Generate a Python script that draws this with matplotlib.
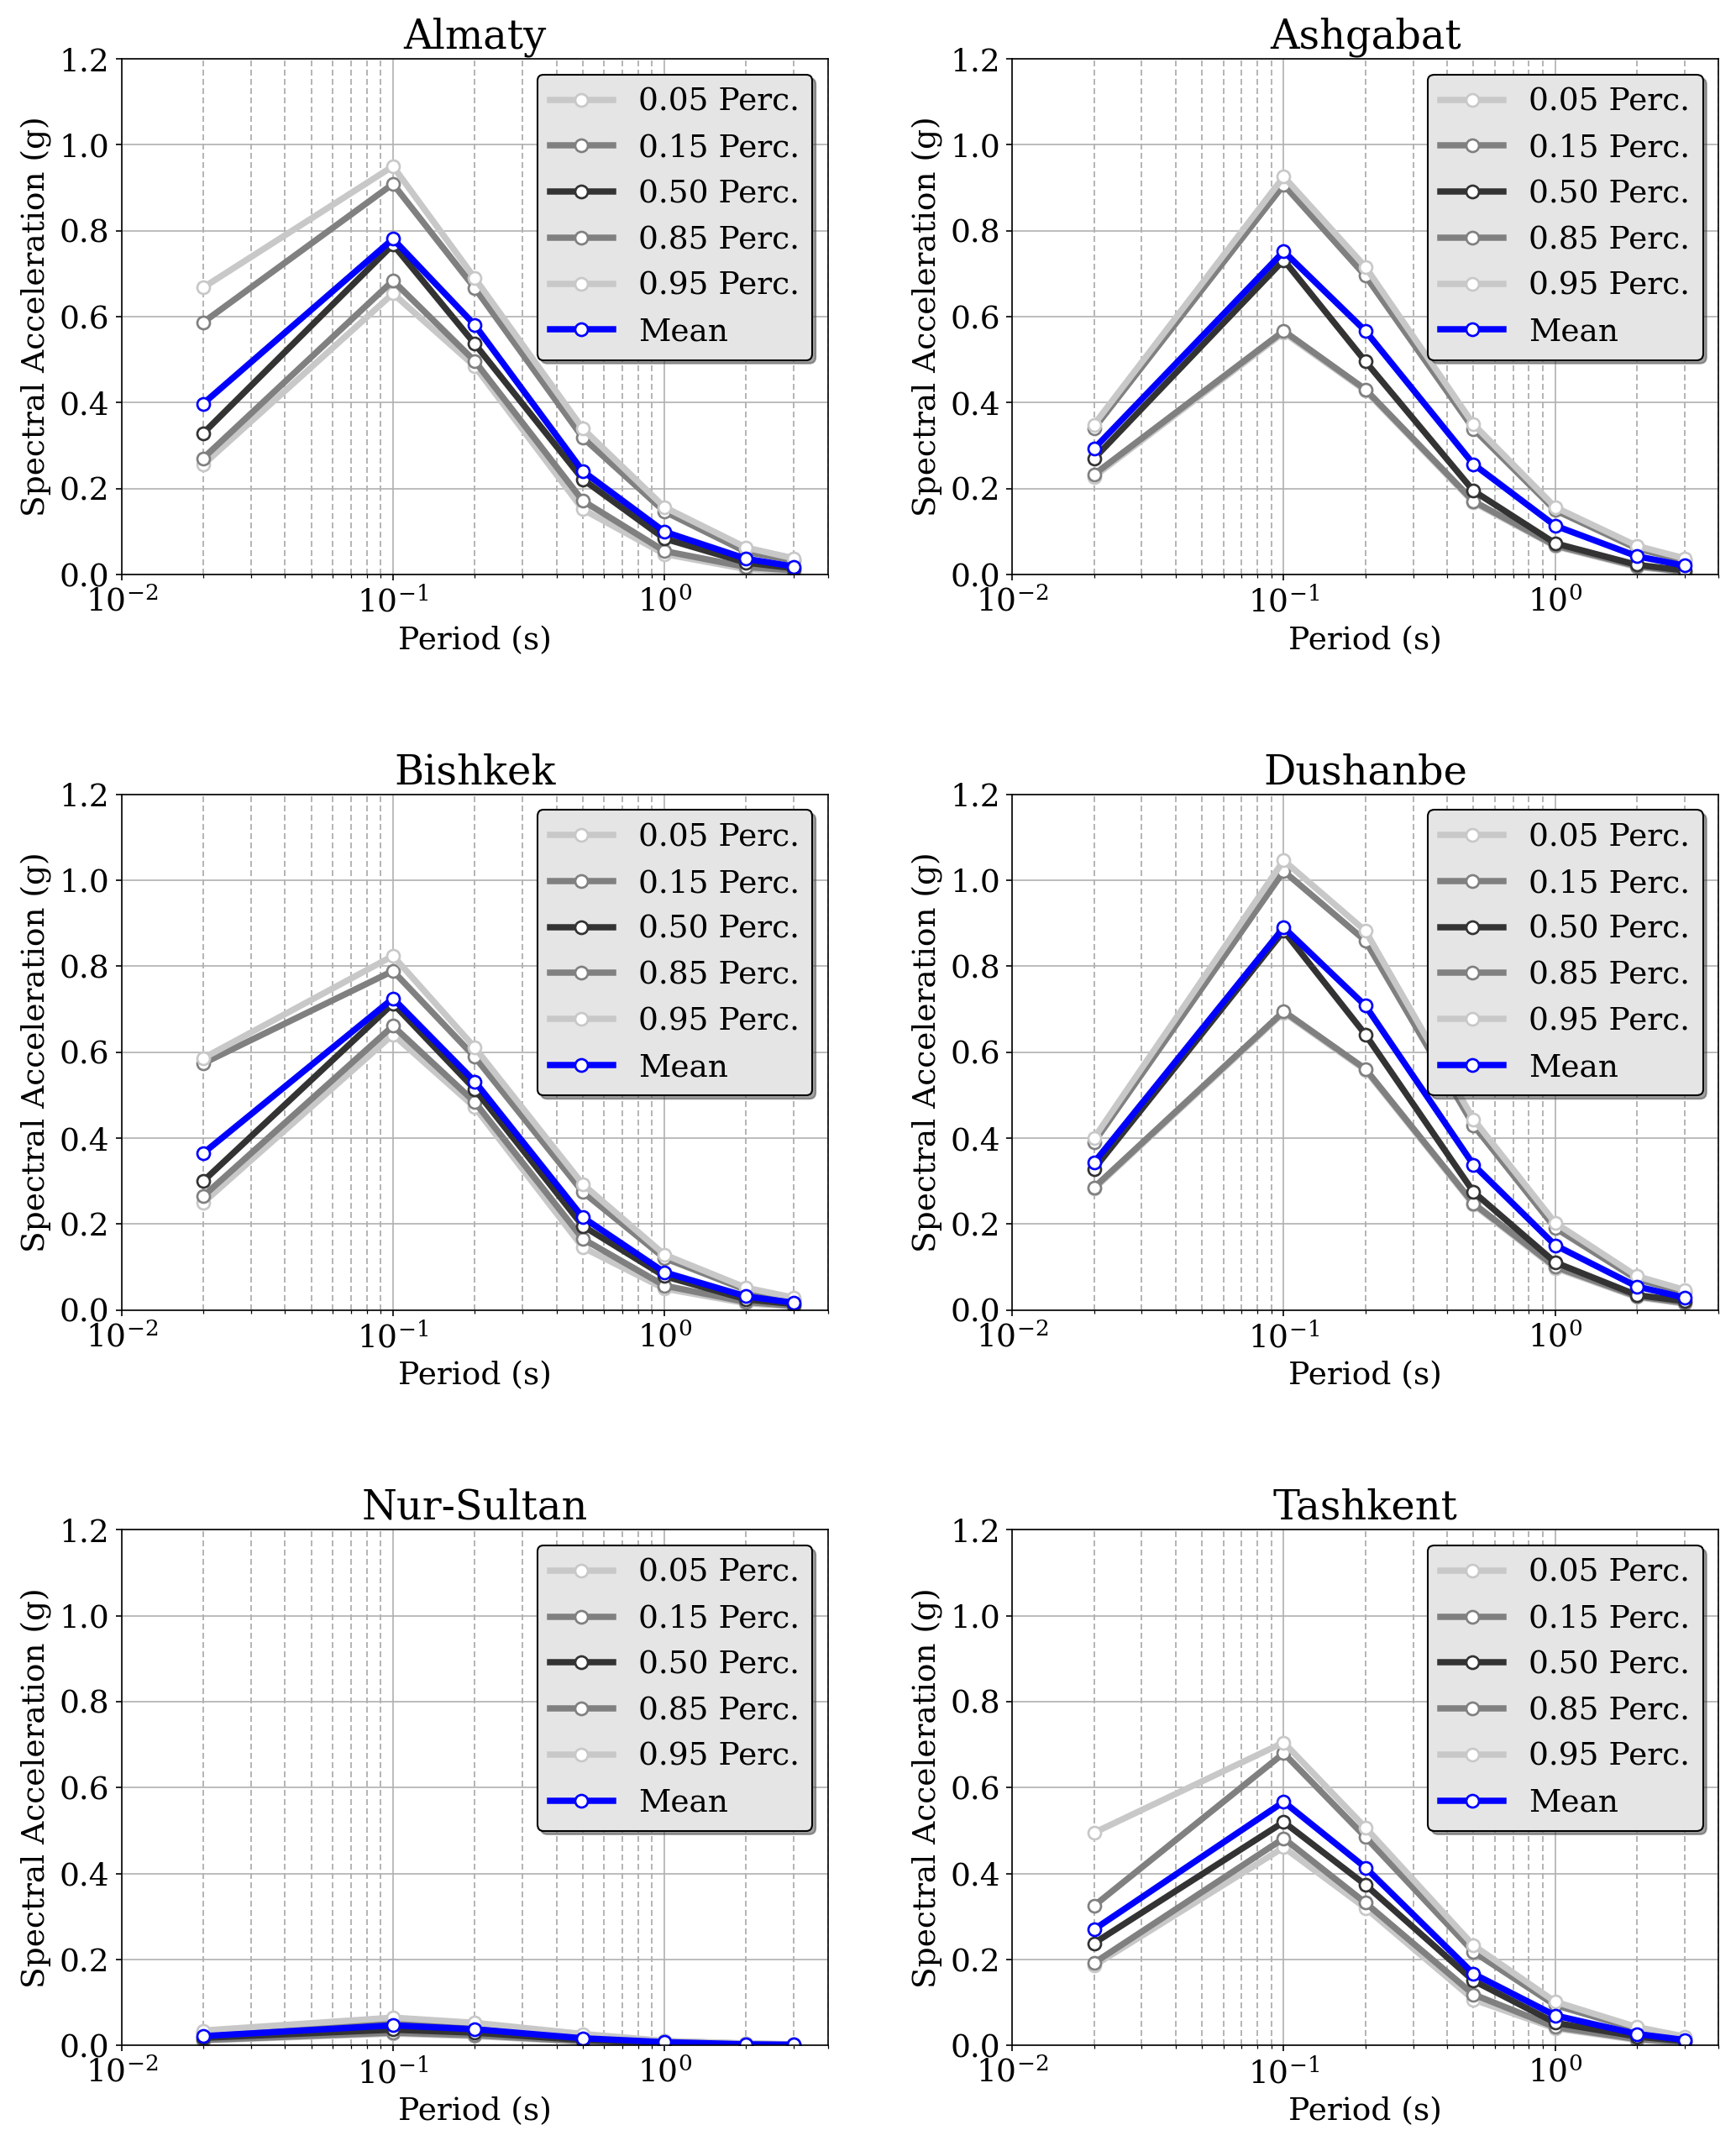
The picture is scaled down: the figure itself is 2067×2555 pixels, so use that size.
import numpy as np
import matplotlib
matplotlib.use("Agg")
import matplotlib.pyplot as plt

plt.rcParams['font.family'] = ['DejaVu Serif']
plt.rcParams['mathtext.fontset'] = 'dejavuserif'

# periods (s)
periods = [0.02, 0.1, 0.2, 0.5, 1.0, 2.0, 3.0]

cities = ["Almaty", "Ashgabat", "Bishkek", "Dushanbe", "Nur-Sultan", "Tashkent"]
labels = ["0.05 Perc.", "0.15 Perc.", "0.50 Perc.", "0.85 Perc.", "0.95 Perc.", "Mean"]

# spectral accelerations (g)
almaty_p05 = [0.256, 0.654, 0.485, 0.152, 0.048, 0.013, 0.007]
almaty_p15 = [0.271, 0.684, 0.497, 0.172, 0.055, 0.018, 0.010]
almaty_p50 = [0.329, 0.768, 0.537, 0.222, 0.084, 0.028, 0.015]
almaty_p85 = [0.587, 0.909, 0.667, 0.319, 0.147, 0.053, 0.033]
almaty_p95 = [0.668, 0.950, 0.690, 0.340, 0.157, 0.063, 0.038]
almaty_mean = [0.398, 0.781, 0.581, 0.241, 0.100, 0.037, 0.019]

ashgabat_p05 = [0.228, 0.563, 0.428, 0.168, 0.066, 0.018, 0.006]
ashgabat_p15 = [0.233, 0.567, 0.431, 0.171, 0.068, 0.020, 0.007]
ashgabat_p50 = [0.270, 0.732, 0.496, 0.195, 0.073, 0.023, 0.010]
ashgabat_p85 = [0.340, 0.907, 0.695, 0.339, 0.150, 0.061, 0.033]
ashgabat_p95 = [0.349, 0.926, 0.716, 0.350, 0.157, 0.067, 0.038]
ashgabat_mean = [0.293, 0.752, 0.567, 0.257, 0.114, 0.043, 0.021]

bishkek_p05 = [0.250, 0.641, 0.472, 0.146, 0.050, 0.016, 0.008]
bishkek_p15 = [0.265, 0.661, 0.484, 0.166, 0.057, 0.019, 0.010]
bishkek_p50 = [0.300, 0.713, 0.514, 0.196, 0.079, 0.025, 0.014]
bishkek_p85 = [0.574, 0.789, 0.589, 0.275, 0.121, 0.047, 0.025]
bishkek_p95 = [0.586, 0.824, 0.611, 0.293, 0.129, 0.052, 0.029]
bishkek_mean = [0.365, 0.725, 0.532, 0.216, 0.088, 0.032, 0.017]

dushanbe_p05 = [0.282, 0.692, 0.558, 0.245, 0.098, 0.030, 0.015]
dushanbe_p15 = [0.285, 0.695, 0.561, 0.248, 0.101, 0.032, 0.017]
dushanbe_p50 = [0.328, 0.882, 0.641, 0.275, 0.111, 0.035, 0.021]
dushanbe_p85 = [0.390, 1.021, 0.859, 0.430, 0.191, 0.072, 0.042]
dushanbe_p95 = [0.400, 1.046, 0.882, 0.444, 0.203, 0.079, 0.047]
dushanbe_mean = [0.343, 0.890, 0.708, 0.338, 0.151, 0.055, 0.029]

nursultan_p05 = [0.012, 0.028, 0.022, 0.009, 0.004, 0.0015, 0.001]
nursultan_p15 = [0.013, 0.030, 0.024, 0.010, 0.004, 0.002, 0.001]
nursultan_p50 = [0.018, 0.037, 0.030, 0.013, 0.006, 0.0025, 0.0015]
nursultan_p85 = [0.030, 0.060, 0.048, 0.024, 0.010, 0.0045, 0.0027]
nursultan_p95 = [0.035, 0.065, 0.053, 0.027, 0.011, 0.005, 0.003]
nursultan_mean = [0.022, 0.047, 0.038, 0.017, 0.008, 0.003, 0.002]

tashkent_p05 = [0.186, 0.461, 0.320, 0.107, 0.040, 0.013, 0.006]
tashkent_p15 = [0.192, 0.482, 0.332, 0.119, 0.043, 0.015, 0.007]
tashkent_p50 = [0.238, 0.520, 0.374, 0.151, 0.053, 0.021, 0.010]
tashkent_p85 = [0.325, 0.680, 0.485, 0.218, 0.094, 0.038, 0.018]
tashkent_p95 = [0.495, 0.705, 0.507, 0.233, 0.102, 0.043, 0.021]
tashkent_mean = [0.270, 0.567, 0.414, 0.167, 0.070, 0.027, 0.013]

data = {
    "Almaty": [almaty_p05, almaty_p15, almaty_p50, almaty_p85, almaty_p95, almaty_mean],
    "Ashgabat": [ashgabat_p05, ashgabat_p15, ashgabat_p50, ashgabat_p85, ashgabat_p95, ashgabat_mean],
    "Bishkek": [bishkek_p05, bishkek_p15, bishkek_p50, bishkek_p85, bishkek_p95, bishkek_mean],
    "Dushanbe": [dushanbe_p05, dushanbe_p15, dushanbe_p50, dushanbe_p85, dushanbe_p95, dushanbe_mean],
    "Nur-Sultan": [nursultan_p05, nursultan_p15, nursultan_p50, nursultan_p85, nursultan_p95, nursultan_mean],
    "Tashkent": [tashkent_p05, tashkent_p15, tashkent_p50, tashkent_p85, tashkent_p95, tashkent_mean],
}

colors = ['#c8c8c8', '#808080', '#333333', '#808080', '#c8c8c8', '#0000ff']

fig, axes = plt.subplots(3, 2, figsize=(2067/150, 2555/150), dpi=150)
fig.subplots_adjust(left=0.070, right=0.990, top=0.9726, bottom=0.0468,
                    wspace=0.261, hspace=0.4255)

for ax, city in zip(axes.flat, cities):
    for vals, lab, col in zip(data[city], labels, colors):
        ax.plot(periods, vals, '-o', color=col, lw=3.6, ms=7.2, mfc='white',
                mec=col, mew=1.3, label=lab)
    ax.set_xscale('log')
    ax.set_xlim(0.01, 4)
    ax.set_ylim(0, 1.2)
    ax.set_yticks(np.arange(0, 1.21, 0.2))
    ax.grid(True, which='major', color='#b0b0b0', lw=0.8)
    ax.grid(True, which='minor', axis='x', color='#a8a8a8', ls=(0, (4.2, 2.4)), lw=0.8)
    ax.set_axisbelow(True)
    ax.tick_params(labelsize=18)
    ax.set_title(city, fontsize=23)
    ax.set_xlabel("Period (s)", fontsize=18)
    ax.set_ylabel("Spectral Acceleration (g)", fontsize=18)
    ax.legend(loc='upper right', fontsize=18, shadow=True, facecolor='#e5e5e5',
              edgecolor='black', framealpha=1)

fig.savefig("out.png", dpi=150)
